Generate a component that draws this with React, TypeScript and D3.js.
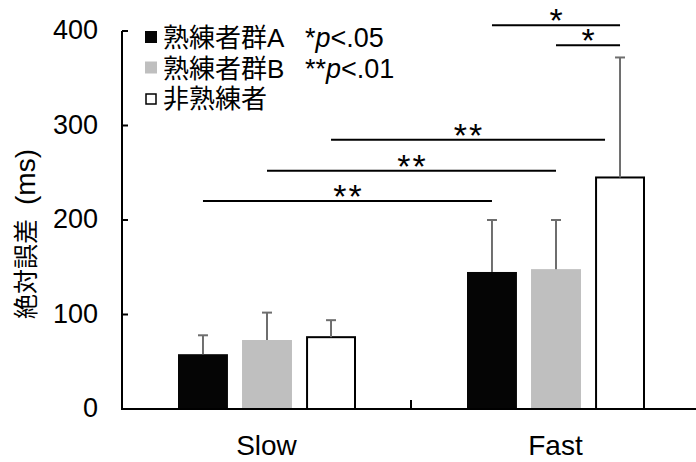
import React, { useEffect, useRef } from "react";
import * as d3 from "d3";

// Data
const categories = ["Slow", "Fast"];
const seriesNames = ["熟練者群A", "熟練者群B", "非熟練者"];
const means = [
  [58, 73, 76], // Slow
  [145, 148, 245], // Fast
];
const errors = [
  [20, 29, 18],
  [55, 52, 127],
];
const yTicks = [0, 100, 200, 300, 400];
// brackets: [fromCat, fromSeries, toCat, toSeries, height, label, endTrim(px)]
const brackets: [number, number, number, number, number, string, number][] = [
  [0, 0, 1, 0, 220, "**", 0],
  [0, 1, 1, 1, 252, "**", 0],
  [0, 2, 1, 2, 285, "**", 15],
  [1, 0, 1, 2, 406, "*", 0],
  [1, 1, 1, 2, 385, "*", 0],
];
const pLegend = [
  ["*", "p", "<.05"],
  ["**", "p", "<.01"],
];

const fills = ["#050505", "#bfbfbf", "#ffffff"];
const latin = "'Liberation Sans', Arial, 'Noto Sans CJK JP', sans-serif";

const App = () => {
  const svgRef = useRef<SVGSVGElement>(null);

  useEffect(() => {
    const width = 696;
    const height = 462;
    const svg = d3.select(svgRef.current).attr("width", width).attr("height", height);
    svg.selectAll("*").remove();

    const x0 = 122;
    const x = d3.scaleBand().domain(categories).range([x0, 700]).padding(0);
    const inner = d3
      .scaleBand()
      .domain(seriesNames)
      .range([56, 234])
      .paddingInner(0.22)
      .paddingOuter(0);
    const y = d3.scaleLinear().domain([0, 400]).range([409, 31]);

    const barX = (c: number, s: number) => (x(categories[c]) as number) + (inner(seriesNames[s]) as number);
    const barMid = (c: number, s: number) => barX(c, s) + inner.bandwidth() / 2;

    // bars
    means.forEach((row, c) => {
      row.forEach((v, s) => {
        svg
          .append("rect")
          .attr("x", barX(c, s) + (s === 2 ? 1 : 0))
          .attr("y", y(v))
          .attr("width", inner.bandwidth() - (s === 2 ? 2 : 0))
          .attr("height", y(0) - y(v))
          .attr("fill", fills[s])
          .attr("stroke", s === 2 ? "#000" : "none")
          .attr("stroke-width", 2);
        // error bar
        const cx = barMid(c, s);
        const top = y(v + errors[c][s]);
        svg
          .append("line")
          .attr("x1", cx).attr("x2", cx)
          .attr("y1", y(v)).attr("y2", top)
          .attr("stroke", "#6e6e6e").attr("stroke-width", 2);
        svg
          .append("line")
          .attr("x1", cx - 5).attr("x2", cx + 5)
          .attr("y1", top).attr("y2", top)
          .attr("stroke", "#6e6e6e").attr("stroke-width", 2);
      });
    });

    // y axis
    svg.append("line")
      .attr("x1", x0).attr("x2", x0).attr("y1", y(400)).attr("y2", y(0))
      .attr("stroke", "#000").attr("stroke-width", 2);
    yTicks.forEach((t) => {
      svg.append("line")
        .attr("x1", x0).attr("x2", x0 + 6).attr("y1", y(t)).attr("y2", y(t))
        .attr("stroke", "#000").attr("stroke-width", 2);
      svg.append("text")
        .attr("x", 98).attr("y", y(t) + 8)
        .attr("text-anchor", "end")
        .attr("font-family", latin).attr("font-size", 27)
        .text(t);
    });

    // x axis
    svg.append("line")
      .attr("x1", x0 - 1).attr("x2", 700).attr("y1", y(0)).attr("y2", y(0))
      .attr("stroke", "#000").attr("stroke-width", 2);
    const divider = x(categories[1]) as number;
    svg.append("line")
      .attr("x1", divider).attr("x2", divider).attr("y1", y(0)).attr("y2", y(0) - 9)
      .attr("stroke", "#000").attr("stroke-width", 2);
    categories.forEach((c) => {
      svg.append("text")
        .attr("x", (x(c) as number) + x.bandwidth() / 2)
        .attr("y", 455)
        .attr("text-anchor", "middle")
        .attr("font-family", latin).attr("font-size", 28)
        .text(c);
    });

    // y title
    const title = svg.append("text")
      .attr("transform", `translate(35,319) rotate(-90)`)
      .attr("text-anchor", "start")
      .attr("font-family", latin);
    title.append("tspan").attr("font-size", 25).text("絶対誤差");
    title.append("tspan").attr("font-size", 28).attr("dx", 14).text("(ms)");

    // significance brackets
    brackets.forEach(([c1, s1, c2, s2, h, label, trim]) => {
      const xa = barMid(c1, s1);
      const xb = barMid(c2, s2) - trim;
      svg.append("line")
        .attr("x1", xa).attr("x2", xb).attr("y1", y(h)).attr("y2", y(h))
        .attr("stroke", "#000").attr("stroke-width", 2);
      svg.append("text")
        .attr("x", (xa + xb) / 2 + 1)
        .attr("y", y(h) + 7)
        .attr("text-anchor", "middle")
        .attr("font-family", latin).attr("font-size", 34)
        .attr("letter-spacing", 2)
        .text(label);
    });

    // legend
    const legend = svg.append("g").attr("transform", "translate(145,37)");
    seriesNames.forEach((name, i) => {
      const g = legend.append("g").attr("transform", `translate(0,${i * 30.5})`);
      if (i < 2) {
        g.append("rect").attr("x", 0).attr("y", -6).attr("width", 12).attr("height", 12).attr("fill", fills[i]);
      } else {
        g.append("rect").attr("x", 1).attr("y", -4).attr("width", 10).attr("height", 10)
          .attr("fill", "#fff").attr("stroke", "#000").attr("stroke-width", 1.5);
      }
      g.append("text")
        .attr("x", 18).attr("y", 10)
        .attr("font-family", latin).attr("font-size", 26)
        .text(name);
    });
    pLegend.forEach(([star, p, rest], i) => {
      const t = svg.append("text")
        .attr("x", 305).attr("y", 47 + i * 30.5)
        .attr("font-family", latin).attr("font-size", 27);
      t.append("tspan").text(star);
      t.append("tspan").attr("font-style", "italic").text(p);
      t.append("tspan").text(rest);
    });
  }, []);

  return (
    <div style={{ position: "absolute", left: 0, top: 0 }}>
      <svg ref={svgRef} style={{ display: "block", background: "#fff" }}></svg>
    </div>
  );
};

export default App;
